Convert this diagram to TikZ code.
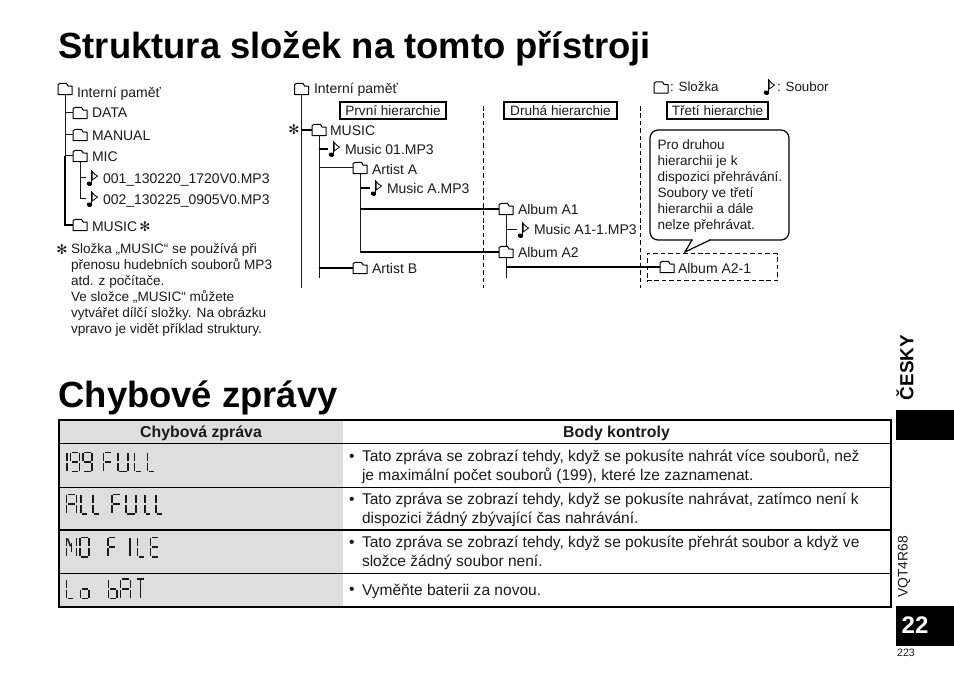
\documentclass[tikz,border=0pt]{standalone}
\usepackage{fontspec}
\setmainfont{Liberation Sans}
\newfontfamily\symfont{DejaVu Sans}
\definecolor{rowgray}{HTML}{DEDEDE}
\definecolor{ink}{HTML}{1A1A1A}
\tikzset{
  every node/.style={inner sep=0pt,outer sep=0pt,text=ink},
  lbl/.style={anchor=base west,font=\fontsize{10.5}{12}\selectfont},
  note/.style={anchor=north west,align=left,font=\fontsize{10.2}{12}\selectfont},
  cell/.style={anchor=north west,align=left,font=\fontsize{11.66}{14.25}\selectfont},
  bul/.style={anchor=base west,font=\fontsize{11.66}{14.25}\selectfont},
  head/.style={anchor=base,font=\fontsize{11.9}{13}\selectfont\bfseries},
  title/.style={anchor=base west,font=\fontsize{27.3}{30}\selectfont\bfseries,text=black},
  thin line/.style={draw=ink,line width=0.75pt},
  thick line/.style={draw=black,line width=1.5pt},
  hbox/.style={draw=black,line width=0.9pt,minimum height=12.75pt,anchor=center,font=\fontsize{10.2}{12}\selectfont},
  vdash/.style={draw=black,line width=0.75pt,dash pattern=on 3.4pt off 2.2pt},
  foldernode/.style={rectangle,minimum width=10.5pt,minimum height=8.4pt},
  notenode/.style={rectangle,minimum width=8pt,minimum height=12pt},
  lcd/.style={draw=ink,line width=1.15pt},
  lcdtext/.style={anchor=west,text opacity=0,font=\fontsize{14}{14}\selectfont},
  star/.style={anchor=center,font=\symfont\fontsize{10}{11}\selectfont},
}
\newcommand\folderic[3]{%
  \node[foldernode] (#1) at (#2,#3) {};
  \draw[line width=0.75pt,draw=black,fill=white,line join=round]
    ([yshift=-1pt]#1.south west |- #1.north west) -- ++(2,-1.3) -- ++(6.5,0) -- ++(1.7,2.7) -- ([yshift=-2pt]#1.north east) -- (#1.south east) -- (#1.south west) -- cycle;
}
\newcommand\noteic[3]{%
  \node[notenode] (#1) at (#2,#3) {};
  \begin{scope}[shift={(#2,#3)}]
    \fill[black,rotate around={-20:(-1.6,5.7)}] (-1.6,5.7) ellipse (2.8 and 2.2);
    \draw[black,line width=1.1pt] (0.7,5.5) -- (0.7,-7.5);
    \draw[black,line width=0.6pt,fill=white] (1.2,-6.5) .. controls (2.5,-4) and (5,-3) .. (6.5,-2) .. controls (5,-0.6) and (2.5,1) .. (1.2,2) -- cycle;
  \end{scope}
}
\newcommand\lcdc[5]{%
  \begin{scope}[shift={(#1,#2)}]
    \def\lcW{#3}\def\lcH{#4}#5
  \end{scope}
}
\newcommand\SA{\draw[lcd] (0.14*\lcW,0) -- (0.86*\lcW,0);}
\newcommand\SB{\draw[lcd] (\lcW,0.05*\lcH) -- (\lcW,0.45*\lcH);}
\newcommand\SC{\draw[lcd] (\lcW,0.55*\lcH) -- (\lcW,0.95*\lcH);}
\newcommand\SD{\draw[lcd] (0.14*\lcW,\lcH) -- (0.86*\lcW,\lcH);}
\newcommand\SE{\draw[lcd] (0,0.55*\lcH) -- (0,0.95*\lcH);}
\newcommand\SF{\draw[lcd] (0,0.05*\lcH) -- (0,0.45*\lcH);}
\newcommand\SG{\draw[lcd] (0.14*\lcW,0.5*\lcH) -- (0.86*\lcW,0.5*\lcH);}
\newcommand\SI{\draw[lcd] (0.5*\lcW,0.05*\lcH) -- (0.5*\lcW,0.95*\lcH);}
\newcommand\SN{\draw[lcd] (0.1*\lcW,0.05*\lcH) -- (0.4*\lcW,0.45*\lcH);}
\newcommand\SM{\draw[lcd] (0.5*\lcW,0.3*\lcH) -- (0.5*\lcW,0.75*\lcH);}
\begin{document}
\begin{tikzpicture}[x=0.75pt,y=-0.75pt]
\useasboundingbox (0,0) rectangle (954,677);
% titles
\node[title] (t1) at (58.5,59) {Struktura složek na tomto přístroji};
\node[title] (t2) at (58.5,408) {Chybové zprávy};

% ---------- left tree
\folderic{lroot}{65}{89}
\node[lbl] (lrootT) at (77,98) {Interní paměť};
\folderic{ldata}{80}{113}
\node[lbl] (ldataT) at (92,118) {DATA};
\folderic{lman}{80}{135}
\node[lbl] (lmanT) at (92,141) {MANUAL};
\folderic{lmic}{80}{156}
\node[lbl] (lmicT) at (92,162) {MIC};
\noteic{ln1}{91}{178}
\node[lbl] (ln1T) at (103,184) {001\_130220\_1720V0.MP3};
\noteic{ln2}{91}{199}
\node[lbl] (ln2T) at (103,205) {002\_130225\_0905V0.MP3};
\folderic{lmus}{80}{225}
\node[lbl] (lmusT) at (92,232) {MUSIC};
\node[star] (lstar) at (145,227) {✻};
\draw[thin line] (lroot.south) |- (ldata.west);
\draw[thin line] (lroot.south |- ldata.west) |- (lman.west);
\draw[thin line] (lroot.south |- lman.west) |- (lmic.west);
\draw[thick line] (lroot.south |- lmic.west) |- (lmus.west);
\draw[thin line] (lmic.south) |- (ln1.west);
\draw[thin line] (lmic.south |- ln1.west) |- (ln2.west);

\node[star] (nstar) at (62,250) {✻};
\node[note] (fn) at (71,243) {Složka „MUSIC“ se používá při\\přenosu hudebních souborů MP3\\atd. z počítače.\\Ve složce „MUSIC“ můžete\\vytvářet dílčí složky. Na obrázku\\vpravo je vidět příklad struktury.};

% ---------- right tree
\folderic{rroot}{301.5}{89}
\node[lbl] (rrootT) at (314,94) {Interní paměť};
\coordinate (rend) at (301.5,288);
\draw[thin line] (rroot.south) -- (rend);
\node[star] (rstar) at (294,130) {✻};
\folderic{rmus}{319}{130}
\node[lbl] (rmusT) at (330,136) {MUSIC};
\draw[thick line] (rroot.south |- rmus.west) -- (rmus.west);
\coordinate (mend) at (319,278);
\draw[thin line] (rmus.south) -- (mend);
\noteic{rn1}{333}{149}
\node[lbl] (rn1T) at (345,155) {Music 01.MP3};
\draw[thick line] (rmus.south |- rn1.west) -- (rn1.west);
\folderic{rarta}{360}{168}
\node[lbl] (rartaT) at (372,175) {Artist A};
\draw[thin line] (rmus.south |- rarta.west) -- (rarta.west);
\noteic{rn2}{375}{188}
\node[lbl] (rn2T) at (387,194) {Music A.MP3};
\draw[thick line] (rarta.south |- rn2.west) -- (rn2.west);
\folderic{ralb1}{506}{209}
\node[lbl] (ralb1T) at (518,215) {Album A1};
\folderic{ralb2}{506}{252}
\node[lbl] (ralb2T) at (518,258) {Album A2};
\draw[thin line] (rarta.south) -- (rarta.south |- ralb2.west);
\draw[thick line] (rarta.south |- ralb1.west) -- (ralb1.west);
\draw[thick line] (rarta.south |- ralb2.west) -- (ralb2.west);
\draw[thin line] (ralb1.south) -- (ralb2.north);
\noteic{rn3}{522}{230}
\node[lbl] (rn3T) at (534,235) {Music A1-1.MP3};
\draw[thin line] (ralb1.south |- rn3.west) -- (rn3.west);
\folderic{rartb}{360}{268}
\node[lbl] (rartbT) at (372,274) {Artist B};
\draw[thick line] (rmus.south |- rartb.west) -- (rartb.west);
\coordinate (aend) at (506,278);
\draw[thin line] (ralb2.south) -- (aend);
\folderic{ralb3}{667}{267}
\node[lbl] (ralb3T) at (678,274) {Album A2-1};
\draw[thick line] (ralb2.south |- ralb3.west) -- (ralb3.west);
\node[draw=black,line width=0.75pt,dash pattern=on 3.4pt off 2.2pt,minimum width=97.5pt,minimum height=20.25pt] (dbox) at (712,267.5) {};

% hierarchy labels
\node[hbox,minimum width=79.5pt] (h1) at (393,110.5) {První hierarchie};
\node[hbox,minimum width=84.75pt] (h2) at (560.5,110.5) {Druhá hierarchie};
\node[hbox,minimum width=75.75pt] (h3) at (717.5,110.5) {Třetí hierarchie};
\coordinate (d1a) at (483,106); \coordinate (d1b) at (483,288);
\coordinate (d2a) at (640,106); \coordinate (d2b) at (640,288);
\draw[vdash] (d1a) -- (d1b);
\draw[vdash] (d2a) -- (d2b);

% legend
\folderic{legf}{661}{87.5}
\node[lbl,font=\fontsize{10}{12}\selectfont] (legfT) at (670,92) {: Složka};
\noteic{legn}{768}{87}
\node[lbl,font=\fontsize{10}{12}\selectfont] (legnT) at (777,92) {: Soubor};

% callout
\draw[draw=black,line width=0.9pt,fill=white,rounded corners=6] (650,130) rectangle (789,240);
\fill[white] (693,238) rectangle (709,242);
\draw[draw=black,line width=0.9pt,line join=miter] (692,240) -- (685,252) -- (710,240);
\node[note] (call) at (657.5,139.5) {Pro druhou\\hierarchii je k\\dispozici přehrávání.\\Soubory ve třetí\\hierarchii a dále\\nelze přehrávat.};

% ---------- table
\fill[rowgray] (59,420) rectangle (343,606);
\coordinate (tl) at (59,420); \coordinate (br) at (891,606.5);
\draw[thin line,draw=black] (59,444) -- (891,444);
\draw[thin line,draw=black] (59,487) -- (891,487);
\draw[thick line] (59,530) -- (891,530);
\draw[thin line,draw=black] (59,573) -- (891,573);
\draw[draw=black,line width=1.5pt] (tl) rectangle (br);
\node[head] (th1) at (201,438) {Chybová zpráva};
\node[head] (th2) at (616.5,438) {Body kontroly};

\node[bul] (b1) at (349,461) {•};
\node[cell] (c1) at (362,449) {Tato zpráva se zobrazí tehdy, když se pokusíte nahrát více souborů, než\\je maximální počet souborů (199), které lze zaznamenat.};
\node[bul] (b2) at (349,504) {•};
\node[cell] (c2) at (362,493) {Tato zpráva se zobrazí tehdy, když se pokusíte nahrávat, zatímco není k\\dispozici žádný zbývající čas nahrávání.};
\node[bul] (b3) at (349,547) {•};
\node[cell] (c3) at (362,536.5) {Tato zpráva se zobrazí tehdy, když se pokusíte přehrát soubor a když ve\\složce žádný soubor není.};
\node[bul] (b4) at (349,594) {•};
\node[cell] (c4) at (362,584) {Vyměňte baterii za novou.};

% LCD messages
\node[lcdtext] (m1) at (66,462) {199 FULL};
\lcdc{67}{452.5}{0.01}{19}{\SB\SC}
\lcdc{70.5}{452.5}{9}{19}{\SA\SB\SC\SD\SF\SG}
\lcdc{83}{452.5}{9}{19}{\SA\SB\SC\SD\SF\SG}
\lcdc{103.5}{452.5}{9}{19}{\SA\SE\SF\SG}
\lcdc{118}{452.5}{10}{19}{\SB\SC\SD\SE\SF}
\lcdc{134.5}{452.5}{8}{19}{\SD\SE\SF}
\lcdc{147.5}{452.5}{8}{19}{\SD\SE\SF}

\node[lcdtext] (m2) at (66,504) {ALL FULL};
\lcdc{66.5}{494.5}{10}{19.5}{\SA\SB\SC\SE\SF\SG}
\lcdc{81}{494.5}{7}{19.5}{\SD\SE\SF}
\lcdc{93}{494.5}{7}{19.5}{\SD\SE\SF}
\lcdc{112}{494.5}{9}{19.5}{\SA\SE\SF\SG}
\lcdc{126}{494.5}{10}{19.5}{\SB\SC\SD\SE\SF}
\lcdc{145}{494.5}{6}{19.5}{\SD\SE\SF}
\lcdc{156}{494.5}{7}{19.5}{\SD\SE\SF}

\node[lcdtext] (m3) at (66,547) {NO FILE};
\lcdc{66.5}{537.5}{10}{19.5}{\SB\SC\SE\SF\SN\SM}
\lcdc{80}{537.5}{9}{19.5}{\SA\SB\SC\SD\SE\SF}
\lcdc{108}{537.5}{8}{19.5}{\SA\SE\SF\SG}
\lcdc{127}{537.5}{6}{19.5}{\SI}
\lcdc{137.5}{537.5}{8}{19.5}{\SD\SE\SF}
\lcdc{150.5}{537.5}{9}{19.5}{\SA\SD\SE\SF\SG}

\node[lcdtext] (m4) at (66,589) {Lo bAT};
\lcdc{66.5}{579}{8}{19.5}{\SD\SE\SF}
\lcdc{80.5}{579}{8.5}{19.5}{\SC\SD\SE\SG}
\lcdc{108.5}{579}{8.5}{19.5}{\SC\SD\SE\SF\SG}
\lcdc{120.5}{579}{10}{19.5}{\SA\SB\SC\SE\SF\SG}
\lcdc{135}{579}{11}{19.5}{\SA\SI}

% ---------- side strip
\fill[black] (896,410) rectangle (954,440);
\fill[black] (896,606) rectangle (954,646);
\node[rotate=90,font=\fontsize{14.2}{15}\selectfont\bfseries,text=black] (cz) at (905,367.5) {ČESKY};
\node[rotate=90,font=\fontsize{10.4}{11}\selectfont] (vq) at (904,567) {VQT4R68};
\node[font=\fontsize{18}{20}\selectfont\bfseries,text=white] (pg) at (915,625.5) {22};
\node[font=\fontsize{8}{10}\selectfont] (sm) at (906,653) {223};
\end{tikzpicture}
\end{document}
